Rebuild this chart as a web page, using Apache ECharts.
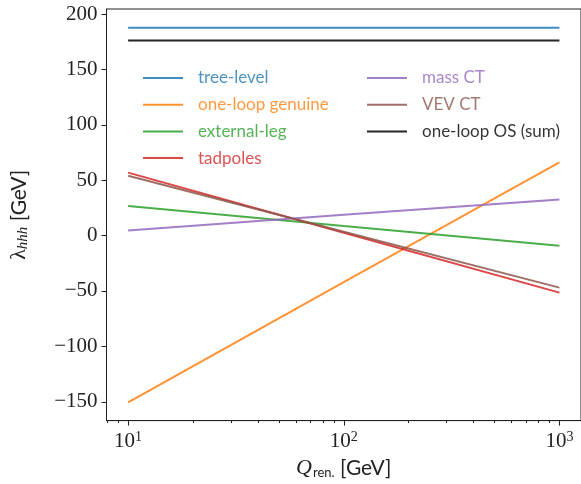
<!DOCTYPE html>
<html>
<head>
<meta charset="utf-8">
<script src="https://cdn.jsdelivr.net/npm/echarts@6/dist/echarts.min.js"></script>
<style>
  html, body { margin: 0; padding: 0; background: #fff; }
  #chart { width: 581px; height: 484px; }
</style>
</head>
<body>
<div id="chart"></div>
<script>
// renormalisation scale (GeV) and the pieces of lambda_hhh (GeV)
var qRen = [10, 100, 1000];
var treeLevel = [187.5, 187.5, 187.5];
var oneLoopGenuine = [-150.5, -42, 66];
var externalLeg = [26.8, 8.6, -9.2];
var tadpoles = [56.8, 2.6, -51.5];
var massCT = [4.6, 18.7, 32.6];
var vevCT = [54, 3.5, -47];
var oneLoopOS = [176, 176, 176];

var xMajorTicks = [10, 100, 1000];
var xMinorTicks = [8, 9, 20, 30, 40, 50, 60, 70, 80, 90, 200, 300, 400, 500, 600, 700, 800, 900];
var yTicks = [-150, -100, -50, 0, 50, 100, 150, 200];

var names = ['tree-level', 'one-loop genuine', 'external-leg', 'tadpoles', 'mass CT', 'VEV CT', 'one-loop OS (sum)'];
var colors = ['#1f77b4', '#ff7f0e', '#2ca02c', '#d62728', '#9467bd', '#8c564b', '#000000'];
var values = [treeLevel, oneLoopGenuine, externalLeg, tadpoles, massCT, vevCT, oneLoopOS];

function pairs(ys) {
  var res = [];
  for (var i = 0; i < qRen.length; i++) res.push([qRen[i], ys[i]]);
  return res;
}

var chart = echarts.init(document.getElementById('chart'));

var tickFont = 'Liberation Serif';
var sansFont = 'Lato';

var series = [];
for (var i = 0; i < names.length; i++) {
  series.push({
    name: names[i],
    type: 'line',
    xAxisIndex: 0,
    data: pairs(values[i]),
    showSymbol: false,
    silent: true,
    lineStyle: { color: colors[i], width: 2, opacity: 0.85 },
    itemStyle: { color: colors[i], opacity: 0.85 }
  });
}

function legendData(list) {
  return list.map(function (n) {
    return { name: n, textStyle: { color: colors[names.indexOf(n)], opacity: 0.8 } };
  });
}

var legendBase = {
  orient: 'vertical',
  icon: 'rect',
  itemWidth: 40,
  itemHeight: 2,
  itemGap: 8.7,
  padding: 0,
  selectedMode: false,
  textStyle: { fontFamily: sansFont, fontSize: 17, lineHeight: 18, padding: [0, 0, 0, 10] }
};

chart.setOption({
  animation: false,
  grid: {
    left: 98, top: 9, width: 484, height: 414,
    show: true, borderColor: '#222', borderWidth: 1, backgroundColor: 'transparent'
  },
  legend: [
    Object.assign({}, legendBase, { left: 143, top: 69, data: legendData(names.slice(0, 4)) }),
    Object.assign({}, legendBase, { left: 367, top: 69, data: legendData(names.slice(4)) })
  ],
  xAxis: [
    {
      type: 'log', logBase: 10, min: 7.94, max: 1259,
      axisLine: { show: true, onZero: false, lineStyle: { color: '#222', width: 1 } },
      axisTick: { show: true, customValues: xMajorTicks, length: 5, lineStyle: { color: '#222' } },
      splitLine: { show: false },
      axisLabel: {
        customValues: xMajorTicks, margin: 10,
        formatter: function (v) {
          return '{b|10}{s|' + Math.round(Math.log10(v)) + '}';
        },
        rich: {
          b: { fontFamily: tickFont, fontSize: 21, color: '#222' },
          s: { fontFamily: tickFont, fontSize: 14, color: '#222', verticalAlign: 'top', padding: [0, 0, 8, 0] }
        }
      },
      name: '{q|Q}{r|ren.}{g| [GeV]}',
      nameLocation: 'middle',
      nameGap: 36,
      nameTextStyle: {
        rich: {
          q: { fontFamily: tickFont, fontStyle: 'italic', fontSize: 22, color: '#222' },
          r: { fontFamily: sansFont, fontSize: 13, color: '#222', verticalAlign: 'bottom', padding: [6, 0, 0, 1] },
          g: { fontFamily: sansFont, fontSize: 21, color: '#222' }
        }
      }
    },
    {
      type: 'log', logBase: 10, min: 7.94, max: 1259,
      gridIndex: 0, position: 'bottom',
      axisLine: { show: false, onZero: false },
      axisTick: { show: true, customValues: xMinorTicks, length: 2.5, lineStyle: { color: '#222' } },
      axisLabel: { show: false },
      splitLine: { show: false }
    }
  ],
  yAxis: {
    type: 'value', min: -167, max: 204.5,
    axisLine: { show: true, lineStyle: { color: '#222', width: 1 } },
    axisTick: { show: true, customValues: yTicks, length: 5, lineStyle: { color: '#222' } },
    splitLine: { show: false },
    axisLabel: {
      customValues: yTicks, margin: 9,
      fontFamily: tickFont, fontSize: 21, color: '#222',
      formatter: function (v) { return v < 0 ? '\u2212' + Math.abs(v) : String(v); }
    },
    name: '{l|\u03bb}{h|hhh}{g| [GeV]}',
    nameLocation: 'middle',
    nameGap: 76,
    nameRotate: 90,
    nameTextStyle: {
      rich: {
        l: { fontFamily: tickFont, fontSize: 22, color: '#222' },
        h: { fontFamily: tickFont, fontStyle: 'italic', fontSize: 15, color: '#222', verticalAlign: 'bottom', padding: [8, 0, 0, 0] },
        g: { fontFamily: sansFont, fontSize: 21, color: '#222' }
      }
    }
  },
  series: series
});
</script>
</body>
</html>
